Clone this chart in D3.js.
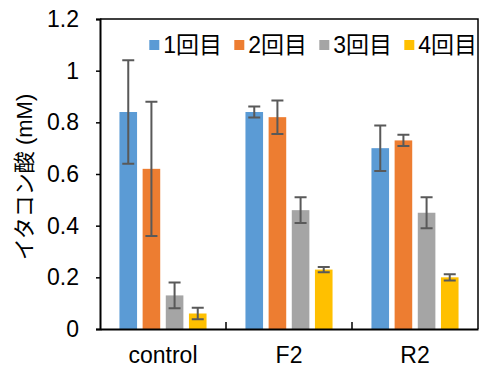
<!DOCTYPE html>
<html lang="ja">

<head>
  <meta charset="utf-8">
  <title>イタコン酸</title>
  <script src="https://d3js.org/d3.v7.min.js" charset="utf-8"></script>
  <style type="text/css">
    body {
      margin: 0;
      background: #fff;
    }

    text {
      font-family: "Liberation Sans", Arial, "Noto Sans CJK JP", sans-serif;
      fill: #000;
    }
  </style>
</head>

<body>
  <script type="text/javascript">

    // data
    var categories = ["control", "F2", "R2"];
    var series = ["1回目", "2回目", "3回目", "4回目"];
    var colors = ["#5B9BD5", "#ED7D31", "#A5A5A5", "#FFC000"];
    var values = [
      [0.84, 0.62, 0.13, 0.06],   // control
      [0.84, 0.82, 0.46, 0.23],   // F2
      [0.70, 0.73, 0.45, 0.20]    // R2
    ];
    var errors = [
      [0.20, 0.26, 0.05, 0.022],
      [0.021, 0.065, 0.05, 0.01],
      [0.088, 0.022, 0.06, 0.012]
    ];
    var yTicks = [0, 0.2, 0.4, 0.6, 0.8, 1, 1.2];

    var W = 479, H = 369;
    var margin = { top: 19, right: 1, bottom: 40, left: 100 };
    var width = W - margin.left - margin.right;
    var height = H - margin.top - margin.bottom;

    var svg = d3.select("body").append("svg")
      .attr("width", W)
      .attr("height", H)
      .append("g")
      .attr("transform", "translate(" + margin.left + "," + margin.top + ")");

    var x0 = d3.scaleBand()
      .domain(categories)
      .range([0, width]);

    var x1 = d3.scaleBand()
      .domain(series)
      .range([0, x0.bandwidth()])
      .paddingInner(0.24)
      .paddingOuter(0.84);

    var y = d3.scaleLinear()
      .domain([0, 1.2])
      .range([height, 0]);

    // plot border (top and right)
    svg.append("path")
      .attr("d", "M0,0H" + width + "V" + height)
      .attr("fill", "none")
      .attr("stroke", "#000")
      .attr("stroke-width", 1.5);

    // bars
    var groups = svg.selectAll(".group")
      .data(categories)
      .enter()
      .append("g")
      .attr("class", "group")
      .attr("transform", function (d) { return "translate(" + x0(d) + ",0)"; });

    groups.selectAll("rect")
      .data(function (d, i) {
        return series.map(function (s, j) {
          return { s: s, v: values[i][j], e: errors[i][j], c: colors[j] };
        });
      })
      .enter()
      .append("rect")
      .attr("x", function (d) { return x1(d.s); })
      .attr("y", function (d) { return y(d.v); })
      .attr("width", x1.bandwidth())
      .attr("height", function (d) { return height - y(d.v); })
      .attr("fill", function (d) { return d.c; });

    // error bars
    var cap = 6;
    groups.selectAll(".err")
      .data(function (d, i) {
        return series.map(function (s, j) {
          return { s: s, v: values[i][j], e: errors[i][j] };
        });
      })
      .enter()
      .append("path")
      .attr("class", "err")
      .attr("d", function (d) {
        var cx = x1(d.s) + x1.bandwidth() / 2;
        var t = y(d.v + d.e), b = y(d.v - d.e);
        return "M" + (cx - cap) + "," + t + "H" + (cx + cap) +
          "M" + cx + "," + t + "V" + b +
          "M" + (cx - cap) + "," + b + "H" + (cx + cap);
      })
      .attr("fill", "none")
      .attr("stroke", "#595959")
      .attr("stroke-width", 2);

    // y axis
    var yAxis = svg.append("g")
      .call(d3.axisLeft(y)
        .tickValues(yTicks)
        .tickSize(4)
        .tickPadding(17)
        .tickFormat(d3.format("")));
    yAxis.select(".domain").attr("stroke-width", 2);
    yAxis.selectAll("text").attr("font-size", "23px").attr("font-family", "Liberation Sans, Arial, sans-serif");
    yAxis.selectAll(".tick line").attr("stroke-width", 1.5);

    // x axis
    var xAxis = svg.append("g")
      .attr("transform", "translate(0," + height + ")")
      .call(d3.axisBottom(x0).tickSize(0).tickPadding(18));
    xAxis.select(".domain").attr("stroke-width", 2);
    xAxis.selectAll("text").attr("font-size", "23px").attr("font-family", "Liberation Sans, Arial, sans-serif");

    // category separators (inside ticks)
    svg.selectAll(".sep")
      .data(categories.slice(1))
      .enter()
      .append("line")
      .attr("class", "sep")
      .attr("x1", function (d) { return x0(d); })
      .attr("x2", function (d) { return x0(d); })
      .attr("y1", height)
      .attr("y2", height - 7)
      .attr("stroke", "#000")
      .attr("stroke-width", 1.5);

    // y label
    svg.append("text")
      .attr("transform", "translate(" + (24 - margin.left) + "," + (177 - margin.top) + ") rotate(-90)")
      .attr("text-anchor", "middle")
      .attr("dominant-baseline", "central")
      .attr("font-size", "22px")
      .text("イタコン酸 (mM)");

    // legend
    var legend = svg.selectAll(".legend")
      .data(series)
      .enter()
      .append("g")
      .attr("class", "legend")
      .attr("transform", function (d, i) { return "translate(" + (49.3 + i * 85) + ",21)"; });

    legend.append("rect")
      .attr("width", 10)
      .attr("height", 10)
      .attr("fill", function (d, i) { return colors[i]; });

    legend.append("text")
      .attr("x", 14)
      .attr("y", 5)
      .attr("dominant-baseline", "central")
      .attr("font-size", "23px")
      .text(function (d) { return d; });

  </script>
</body>

</html>
